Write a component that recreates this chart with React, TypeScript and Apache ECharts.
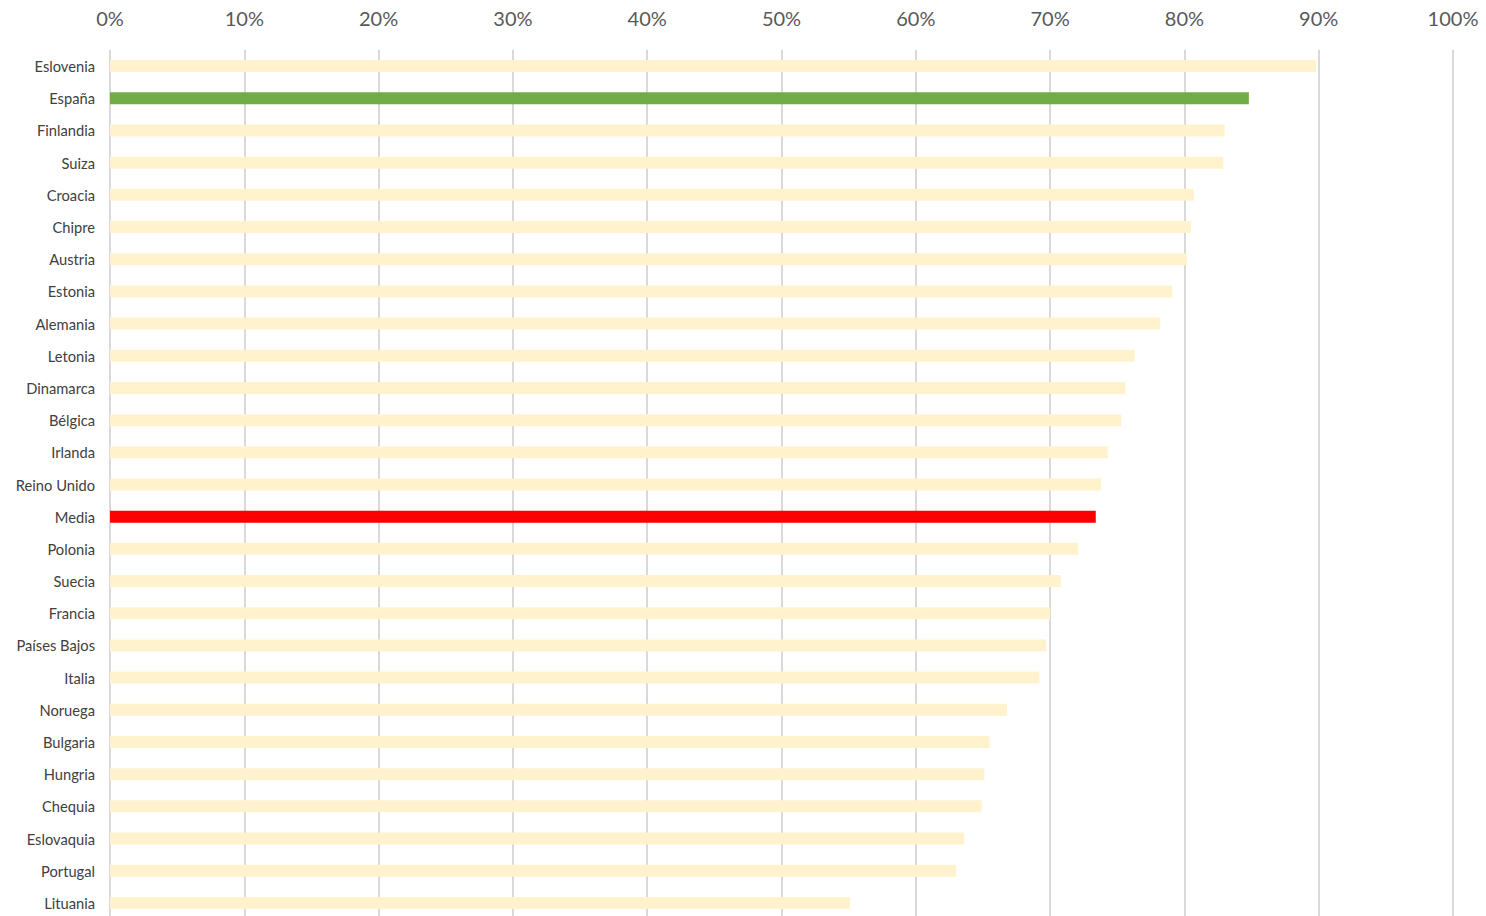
import React, { useEffect, useRef } from "react";
import * as echarts from "echarts";

const categories = [
  "Eslovenia", "España", "Finlandia", "Suiza", "Croacia", "Chipre", "Austria", "Estonia",
  "Alemania", "Letonia", "Dinamarca", "Bélgica", "Irlanda", "Reino Unido", "Media", "Polonia",
  "Suecia", "Francia", "Países Bajos", "Italia", "Noruega", "Bulgaria", "Hungria", "Chequia",
  "Eslovaquia", "Portugal", "Lituania",
];

const values = [
  0.898, 0.848, 0.830, 0.829, 0.807, 0.805, 0.802, 0.791,
  0.782, 0.763, 0.756, 0.753, 0.743, 0.738, 0.734, 0.721,
  0.708, 0.700, 0.697, 0.692, 0.668, 0.655, 0.651, 0.649,
  0.636, 0.630, 0.551,
];

const highlight: Record<string, string> = { "España": "#70AD47", "Media": "#FF0000" };
const baseColor = "#FFF2CC";

export default function App() {
  const ref = useRef<HTMLDivElement>(null);
  useEffect(() => {
    if (!ref.current) return;
    const chart = echarts.init(ref.current, undefined, { renderer: "svg" });
    chart.setOption({
      animation: false,
      grid: { left: 110, right: 33, top: 50, bottom: 1, containLabel: false },
      xAxis: {
        type: "value",
        position: "top",
        min: 0,
        max: 1,
        interval: 0.1,
        axisLine: { show: false },
        axisTick: { show: false },
        axisLabel: {
          margin: 22,
          fontSize: 20,
          color: "#595959",
          fontFamily: "Lato",
          formatter: (v: number) => Math.round(v * 100) + "%",
        },
        splitLine: { show: true, lineStyle: { color: "#D9D9D9", width: 2 } },
      },
      yAxis: {
        type: "category",
        data: categories,
        inverse: true,
        axisLine: { show: false },
        axisTick: { show: false },
        axisLabel: { margin: 15, fontSize: 14.7, color: "#404040", fontFamily: "Lato" },
      },
      series: [
        {
          type: "bar",
          barWidth: 12,
          data: values.map((v, i) => ({
            value: v,
            itemStyle: { color: highlight[categories[i]] || baseColor },
          })),
        },
      ],
    });
    return () => chart.dispose();
  }, []);
  return (
    <div
      ref={ref}
      style={{ position: "absolute", left: 0, top: 0, width: 1486, height: 920, background: "#fff" }}
    />
  );
}
